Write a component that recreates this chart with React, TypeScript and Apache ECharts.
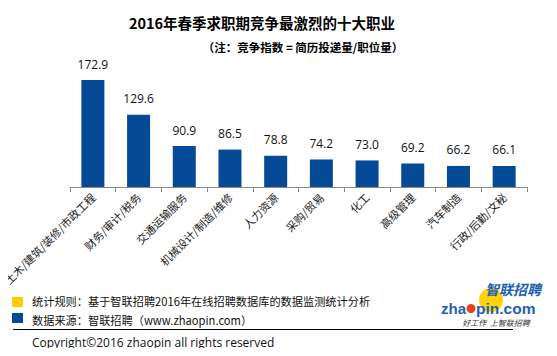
import React, { useEffect, useRef } from "react";
import * as echarts from "echarts";

const categories = [
  "土木/建筑/装修/市政工程",
  "财务/审计/税务",
  "交通运输服务",
  "机械设计/制造/维修",
  "人力资源",
  "采购/贸易",
  "化工",
  "高级管理",
  "汽车制造",
  "行政/后勤/文秘",
];
const values = [172.9, 129.6, 90.9, 86.5, 78.8, 74.2, 73.0, 69.2, 66.2, 66.1];

const titleText = "2016年春季求职期竞争最激烈的十大职业";
const subTitleText = "（注：竞争指数 = 简历投递量/职位量）";
const ruleText = "统计规则：基于智联招聘2016年在线招聘数据库的数据监测统计分析";
const sourceText = "数据来源：智联招聘（www.zhaopin.com）";
const copyrightText = "Copyright©2016 zhaopin all rights reserved";

const CJK = '"Microsoft YaHei", "Noto Sans CJK SC", sans-serif';

export default function App() {
  const ref = useRef<HTMLDivElement>(null);
  useEffect(() => {
    if (!ref.current) return;
    const chart = echarts.init(ref.current, null, { renderer: "svg" });
    chart.setOption({
      animation: false,
      backgroundColor: "#ffffff",
      grid: { left: 69, right: 30, top: 58.2, bottom: 169 },
      xAxis: {
        type: "category",
        data: categories,
        axisLine: { lineStyle: { color: "#898989", width: 1 } },
        axisTick: { show: true, length: 5, lineStyle: { color: "#898989" } },
        axisLabel: {
          rotate: 45,
          interval: 0,
          margin: 8,
          fontSize: 11,
          color: "#1a1a1a",
          fontFamily: CJK,
        },
      },
      yAxis: {
        type: "value",
        min: 40,
        max: 200,
        show: false,
        splitLine: { show: false },
      },
      series: [
        {
          type: "bar",
          data: values,
          barWidth: 23,
          itemStyle: { color: "#054a96" },
          label: {
            show: true,
            position: "top",
            distance: 10,
            fontSize: 12,
            color: "#111",
            fontFamily: "Open Sans, sans-serif",
            formatter: (p: any) => Number(p.value).toFixed(1),
          },
        },
      ],
      graphic: [
        {
          type: "text",
          x: 262,
          y: 22,
          style: {
            text: titleText,
            font: `bold 14.5px ${CJK}`,
            fill: "#000",
            textAlign: "center",
            textVerticalAlign: "middle",
          },
        },
        {
          type: "text",
          x: 303,
          y: 47,
          style: {
            text: subTitleText,
            font: `bold 11.5px ${CJK}`,
            fill: "#000",
            textAlign: "center",
            textVerticalAlign: "middle",
          },
        },
        { type: "rect", shape: { x: 12, y: 297, width: 11, height: 10 }, style: { fill: "#ffcc00" } },
        {
          type: "text",
          x: 32,
          y: 301,
          style: { text: ruleText, font: `11.2px ${CJK}`, fill: "#111", textVerticalAlign: "middle" },
        },
        { type: "rect", shape: { x: 12, y: 313, width: 11, height: 10 }, style: { fill: "#054a96" } },
        {
          type: "text",
          x: 32,
          y: 320,
          style: { text: sourceText, font: `11.2px ${CJK}`, fill: "#111", textVerticalAlign: "middle" },
        },
        {
          type: "line",
          shape: { x1: 13, y1: 329.5, x2: 513, y2: 329.5 },
          style: { stroke: "#000", lineWidth: 1 },
        },
        {
          type: "text",
          x: 32,
          y: 342,
          style: {
            text: copyrightText,
            font: `12px "Open Sans", sans-serif`,
            fill: "#111",
            textVerticalAlign: "middle",
          },
        },
        // logo
        { type: "circle", shape: { cx: 491, cy: 300, r: 12 }, style: { fill: "#ffd400" } },
        {
          type: "text",
          x: 513,
          y: 289,
          style: {
            text: "智联招聘",
            font: `italic bold 14px ${CJK}`,
            fill: "#1d5fb4",
            textAlign: "center",
            textVerticalAlign: "middle",
          },
        },
        {
          type: "text",
          x: 466,
          y: 308,
          style: {
            text: "zha",
            font: `bold 15px "Liberation Sans", sans-serif`,
            fill: "#1d5fb4",
            textAlign: "right",
            textVerticalAlign: "middle",
          },
        },
        { type: "circle", shape: { cx: 471, cy: 308.5, r: 4.5 }, style: { fill: "#e8431a" } },
        {
          type: "text",
          x: 476,
          y: 308,
          style: {
            text: "pin.com",
            font: `bold 15.5px "Liberation Sans", sans-serif`,
            fill: "#1d5fb4",
            textVerticalAlign: "middle",
          },
        },
        {
          type: "text",
          x: 496,
          y: 322,
          style: {
            text: "好工作  上智联招聘",
            font: `italic 8px ${CJK}`,
            fill: "#333",
            textAlign: "center",
            textVerticalAlign: "middle",
          },
        },
      ],
    });
    return () => chart.dispose();
  }, []);
  return <div ref={ref} style={{ width: 557, height: 356, margin: -8 }} />;
}
